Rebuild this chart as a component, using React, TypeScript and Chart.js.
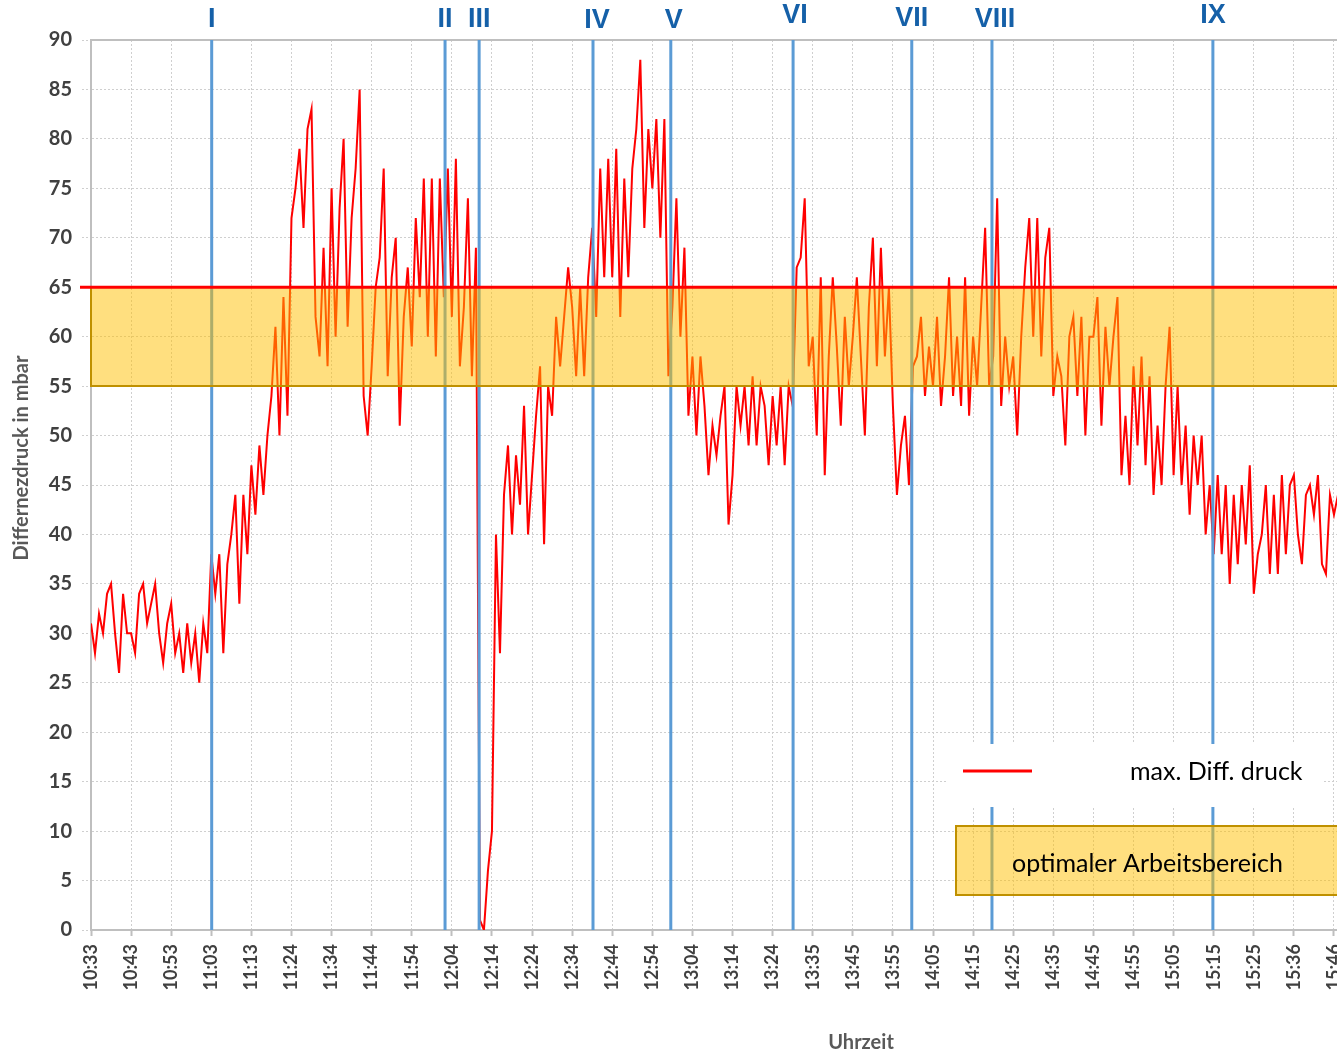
import React, { useEffect, useRef } from 'react';
import { Chart, registerables } from 'chart.js';

Chart.register(...registerables);

// ---- data ----
const timeLabels = [
  '10:33', '10:43', '10:53', '11:03', '11:13', '11:24', '11:34', '11:44', '11:54', '12:04',
  '12:14', '12:24', '12:34', '12:44', '12:54', '13:04', '13:14', '13:24', '13:35', '13:45',
  '13:55', '14:05', '14:15', '14:25', '14:35', '14:45', '14:55', '15:05', '15:15', '15:25',
  '15:36', '15:46',
];

// samples per x-axis label interval (equally spaced measurements)
const SAMPLES_PER_TICK = 10;

const pressure1033 = [31, 28, 32, 30, 34, 35, 30, 26, 34, 30];
const pressure1043 = [30, 28, 34, 35, 31, 33, 35, 30, 27, 31];
const pressure1053 = [33, 28, 30, 26, 31, 27, 30, 25, 31, 28];
const pressure1103 = [38, 34, 38, 28, 37, 40, 44, 33, 44, 38];
const pressure1113 = [47, 42, 49, 44, 50, 54, 61, 50, 64, 52];
const pressure1124 = [72, 75, 79, 71, 81, 83, 62, 58, 69, 57];
const pressure1134 = [75, 60, 73, 80, 61, 72, 77, 85, 54, 50];
const pressure1144 = [57, 65, 68, 77, 56, 66, 70, 51, 62, 67];
const pressure1154 = [59, 72, 64, 76, 60, 76, 58, 76, 64, 77];
const pressure1204 = [62, 78, 57, 63, 74, 56, 69, 1, 0, 6];
const pressure1214 = [10, 40, 28, 44, 49, 40, 48, 43, 53, 40];
const pressure1224 = [46, 52, 57, 39, 55, 52, 62, 57, 62, 67];
const pressure1234 = [63, 56, 65, 56, 66, 71, 62, 77, 66, 78];
const pressure1244 = [66, 79, 62, 76, 66, 77, 81, 88, 71, 81];
const pressure1254 = [75, 82, 70, 82, 56, 63, 74, 60, 69, 52];
const pressure1304 = [58, 50, 58, 53, 46, 51, 48, 52, 55, 41];
const pressure1314 = [46, 55, 51, 55, 49, 56, 49, 55, 53, 47];
const pressure1324 = [54, 49, 55, 47, 55, 53, 67, 68, 74, 57];
const pressure1335 = [60, 50, 66, 46, 58, 66, 59, 51, 62, 55];
const pressure1345 = [60, 66, 58, 50, 63, 70, 57, 69, 58, 65];
const pressure1355 = [53, 44, 49, 52, 45, 57, 58, 62, 54, 59];
const pressure1405 = [55, 62, 53, 58, 66, 54, 60, 53, 66, 52];
const pressure1415 = [60, 55, 63, 71, 55, 58, 74, 53, 60, 55];
const pressure1425 = [58, 50, 60, 67, 72, 60, 72, 58, 68, 71];
const pressure1435 = [54, 58, 56, 49, 60, 62, 54, 62, 50, 60];
const pressure1445 = [60, 64, 51, 61, 55, 60, 64, 46, 52, 45];
const pressure1455 = [57, 49, 58, 47, 56, 44, 51, 45, 55, 61];
const pressure1505 = [46, 55, 45, 51, 42, 50, 45, 50, 40, 45];
const pressure1515 = [38, 46, 38, 45, 35, 44, 37, 45, 39, 47];
const pressure1525 = [34, 38, 40, 45, 36, 44, 36, 46, 38, 45];
const pressure1536 = [46, 40, 37, 44, 45, 42, 46, 37, 36, 44];
const pressure1546 = [42, 44, 40];

const pressureValues = [
  ...pressure1033, ...pressure1043, ...pressure1053, ...pressure1103, ...pressure1113,
  ...pressure1124, ...pressure1134, ...pressure1144, ...pressure1154, ...pressure1204,
  ...pressure1214, ...pressure1224, ...pressure1234, ...pressure1244, ...pressure1254,
  ...pressure1304, ...pressure1314, ...pressure1324, ...pressure1335, ...pressure1345,
  ...pressure1355, ...pressure1405, ...pressure1415, ...pressure1425, ...pressure1435,
  ...pressure1445, ...pressure1455, ...pressure1505, ...pressure1515, ...pressure1525,
  ...pressure1536, ...pressure1546,
];

// event markers (position in label intervals from 10:33)
const markerNames = ['I', 'II', 'III', 'IV', 'V', 'VI', 'VII', 'VIII', 'IX'];
const markerPositions = [3.01, 8.83, 9.68, 12.52, 14.46, 17.51, 20.47, 22.47, 27.98];

const bandMin = 55;
const bandMax = 65;
const maxDiffPressure = 65;

const yMin = 0;
const yMax = 90;
const yStep = 5;

const seriesLabel = 'max. Diff. druck';
const bandLabel = 'optimaler Arbeitsbereich';
const yTitle = 'Differnezdruck in mbar';
const xTitle = 'Uhrzeit';

// ---- drawing ----
const CANVAS_W = 1400;
const CANVAS_H = 1055;

const overlayPlugin = {
  id: 'overlay',
  afterDatasetsDraw(chart: any) {
    const { ctx, chartArea: ca, scales } = chart;
    const x = scales.x;
    const y = scales.y;
    ctx.save();

    // top border of plot
    ctx.strokeStyle = '#bfbfbf';
    ctx.lineWidth = 2;
    ctx.beginPath();
    ctx.moveTo(ca.left, ca.top);
    ctx.lineTo(ca.right, ca.top);
    ctx.stroke();

    // event lines
    ctx.strokeStyle = '#5B9BD5';
    ctx.lineWidth = 3;
    markerPositions.forEach((p) => {
      const px = x.getPixelForValue(p);
      ctx.beginPath();
      ctx.moveTo(px, ca.top);
      ctx.lineTo(px, ca.bottom);
      ctx.stroke();
    });

    // optimal band
    const yTop = y.getPixelForValue(bandMax);
    const yBot = y.getPixelForValue(bandMin);
    ctx.fillStyle = 'rgba(255,192,0,0.5)';
    ctx.fillRect(ca.left, yTop, CANVAS_W - ca.left, yBot - yTop);
    ctx.strokeStyle = '#BF9000';
    ctx.lineWidth = 2;
    ctx.beginPath();
    ctx.moveTo(ca.left, yTop);
    ctx.lineTo(ca.left, yBot);
    ctx.lineTo(CANVAS_W, yBot);
    ctx.stroke();

    // max diff pressure line
    const yMaxP = y.getPixelForValue(maxDiffPressure);
    ctx.strokeStyle = '#FF0000';
    ctx.lineWidth = 3;
    ctx.beginPath();
    ctx.moveTo(ca.left - 11, yMaxP);
    ctx.lineTo(CANVAS_W, yMaxP);
    ctx.stroke();

    // legend
    ctx.fillStyle = '#ffffff';
    ctx.fillRect(948, 744, 374, 63);
    ctx.strokeStyle = '#FF0000';
    ctx.lineWidth = 3;
    ctx.beginPath();
    ctx.moveTo(963, 771);
    ctx.lineTo(1032, 771);
    ctx.stroke();
    ctx.fillStyle = '#000000';
    ctx.font = '25px Lato';
    ctx.textAlign = 'left';
    ctx.textBaseline = 'middle';
    ctx.fillText(seriesLabel, 1130, 772);

    ctx.fillStyle = 'rgba(255,192,0,0.5)';
    ctx.fillRect(956, 826, CANVAS_W - 956, 69);
    ctx.strokeStyle = '#BF9000';
    ctx.lineWidth = 2;
    ctx.strokeRect(956, 826, CANVAS_W - 956 + 10, 69);
    ctx.fillStyle = '#000000';
    ctx.font = '25px Lato';
    ctx.fillText(bandLabel, 1012, 864);

    // roman numerals
    const nudge: Record<string, [number, number]> = {
      IV: [4, 1], V: [3, 1], VI: [2, -4], VII: [0, -1], VIII: [3, 0], IX: [0, -4],
    };
    ctx.fillStyle = '#1560A8';
    ctx.font = 'bold 27px "Liberation Sans"';
    ctx.textAlign = 'center';
    ctx.textBaseline = 'middle';
    markerNames.forEach((name, i) => {
      const px = x.getPixelForValue(markerPositions[i]);
      const [dx, dy] = nudge[name] || [0, 0];
      ctx.fillText(name, px + dx, 20 + dy);
    });

    // axis titles
    ctx.fillStyle = '#595959';
    ctx.font = 'bold 20px Lato';
    ctx.textAlign = 'center';
    ctx.textBaseline = 'middle';
    ctx.fillText(xTitle, 861, 1043);
    ctx.save();
    ctx.translate(22, 458);
    ctx.rotate(-Math.PI / 2);
    ctx.fillText(yTitle, 0, 0);
    ctx.restore();

    ctx.restore();
  },
};

export default function App() {
  const canvasRef = useRef<HTMLCanvasElement | null>(null);

  useEffect(() => {
    const canvas = canvasRef.current;
    if (!canvas) return;
    const points = pressureValues.map((v, i) => ({ x: i / SAMPLES_PER_TICK, y: v }));
    const chart = new Chart(canvas, {
      type: 'line',
      data: {
        datasets: [
          {
            label: seriesLabel,
            data: points,
            borderColor: '#FF0000',
            borderWidth: 2,
            pointRadius: 0,
            tension: 0,
            fill: false,
          },
        ],
      },
      options: {
        animation: false,
        responsive: false,
        devicePixelRatio: 1,
        layout: { padding: { top: 40, right: CANVAS_W - 1342, left: 0, bottom: 0 } },
        plugins: { legend: { display: false }, tooltip: { enabled: false } },
        scales: {
          x: {
            type: 'linear',
            min: 0,
            max: 31.2,
            afterFit: (scale: any) => {
              scale.height = 125;
            },
            afterBuildTicks: (scale: any) => {
              scale.ticks = timeLabels.map((_, i) => ({ value: i }));
            },
            ticks: {
              autoSkip: false,
              minRotation: 90,
              maxRotation: 90,
              padding: 8,
              color: '#404040',
              font: { family: 'Lato', weight: 'bold', size: 18 },
              callback: (value: any) => timeLabels[Math.round(Number(value))] ?? '',
            },
            grid: {
              color: '#cfcfcf',
              lineWidth: 1,
              tickLength: 6,
              tickColor: '#bfbfbf',
              tickWidth: 2,
              tickBorderDash: [],
            },
            border: { display: true, color: '#bfbfbf', width: 2, dash: [2, 2] },
          },
          y: {
            type: 'linear',
            min: yMin,
            max: yMax,
            afterFit: (scale: any) => {
              scale.width = 91;
            },
            ticks: {
              stepSize: yStep,
              padding: 10,
              color: '#404040',
              font: { family: 'Lato', weight: 'bold', size: 20 },
            },
            grid: {
              color: '#cfcfcf',
              lineWidth: 1,
              tickLength: 9,
              tickBorderDash: [2, 2],
            },
            border: { display: true, color: '#bfbfbf', width: 2, dash: [2, 2] },
          },
        },
      },
      plugins: [overlayPlugin],
    });
    return () => chart.destroy();
  }, []);

  return (
    <div
      style={{
        position: 'fixed',
        left: 0,
        top: 0,
        width: 1337,
        height: 1055,
        overflow: 'hidden',
        background: '#ffffff',
      }}
    >
      <canvas ref={canvasRef} width={CANVAS_W} height={CANVAS_H} style={{ display: 'block' }} />
    </div>
  );
}
